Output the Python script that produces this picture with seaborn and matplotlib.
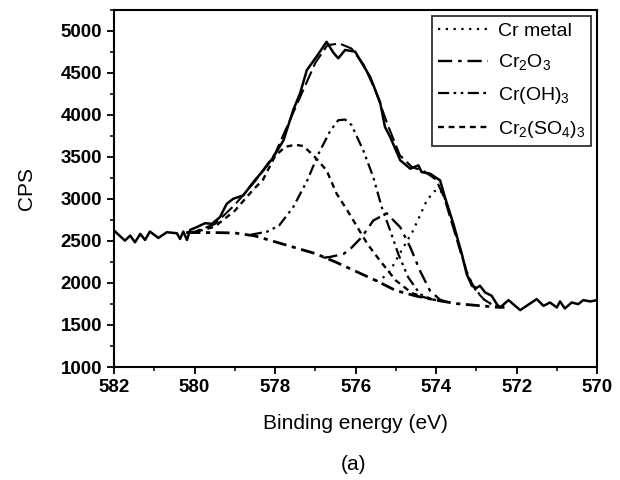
import matplotlib
matplotlib.use("Agg")
import matplotlib.pyplot as plt
import seaborn as sns
import numpy as np
import pandas as pd
from matplotlib.ticker import MultipleLocator

# ---------------- data ----------------
exp_energy = [582.00, 581.73, 581.60, 581.48, 581.35, 581.23, 581.11, 580.90, 580.69,
              580.44, 580.36, 580.28, 580.19, 580.11, 579.95, 579.74, 579.57, 579.37,
              579.20, 579.04, 578.79, 578.54, 578.29, 578.04, 577.79, 577.55, 577.38,
              577.21, 576.97, 576.72, 576.55, 576.43, 576.26, 576.01, 575.89, 575.64,
              575.39, 575.27, 575.14, 574.89, 574.64, 574.44, 574.36, 574.15, 573.90,
              573.78, 573.57, 573.36, 573.24, 573.11, 573.00, 572.91, 572.78, 572.62,
              572.49, 572.41, 572.20, 571.91, 571.50, 571.33, 571.17, 571.00, 570.92,
              570.80, 570.63, 570.47, 570.34, 570.17, 570.00]
exp_cps = [2624, 2504, 2564, 2484, 2584, 2512, 2612, 2536, 2604,
           2592, 2524, 2612, 2512, 2632, 2664, 2711, 2704, 2783,
           2943, 3002, 3042, 3201, 3340, 3499, 3698, 4057, 4256,
           4534, 4693, 4870, 4740, 4674, 4773, 4753, 4654, 4455,
           4150, 3857, 3738, 3460, 3360, 3400, 3320, 3301, 3221,
           3022, 2704, 2346, 2107, 1967, 1940, 1967, 1887, 1848,
           1748, 1708, 1796, 1677, 1808, 1728, 1768, 1708, 1780,
           1697, 1768, 1748, 1796, 1780, 1796]

fit_energy = [580.2, 580.0, 579.5, 579.0, 578.5, 578.0, 577.5, 577.0, 576.7, 576.4,
              576.1, 575.8, 575.5, 575.2, 574.9, 574.6, 574.3, 574.0, 573.8, 573.6,
              573.4, 573.2, 573.0, 572.8, 572.6, 572.4]
fit_cps = [2600, 2610, 2700, 2930, 3210, 3540, 4080, 4620, 4830, 4850,
           4790, 4600, 4280, 3880, 3520, 3380, 3330, 3230, 3020, 2700,
           2380, 2080, 1900, 1800, 1740, 1715]

bg_energy = [580.2, 579.5, 579.0, 578.5, 578.0, 577.5, 577.0, 576.5, 576.0, 575.5,
             575.0, 574.5, 574.0, 573.5, 573.0, 572.5, 572.3]
bg_cps = [2600, 2600, 2595, 2560, 2490, 2420, 2350, 2250, 2140, 2030,
          1910, 1845, 1795, 1755, 1733, 1712, 1710]

crmetal_energy = [575.5, 575.3, 575.14, 574.86, 574.57, 574.23, 574.05, 573.9, 573.78,
                  573.57, 573.36, 573.2, 573.0, 572.8, 572.6, 572.45]
crmetal_cps = [2020, 2070, 2146, 2385, 2624, 2982, 3090, 3110, 3000,
               2690, 2330, 2080, 1910, 1800, 1740, 1715]

cr2o3_energy = [576.8, 576.63, 576.3, 576.1, 575.85, 575.56, 575.23, 574.89, 574.64,
                574.40, 574.15, 573.9, 573.7]
cr2o3_cps = [2300, 2310, 2345, 2420, 2544, 2743, 2830, 2663, 2424,
             2146, 1907, 1800, 1770]

croh3_energy = [578.6, 578.2, 577.9, 577.55, 577.2, 576.92, 576.63, 576.43, 576.26,
                576.1, 575.81, 575.56, 575.35, 575.14, 574.94, 574.69, 574.40, 574.1]
croh3_cps = [2575, 2610, 2684, 2902, 3221, 3539, 3810, 3937, 3945,
             3880, 3579, 3260, 2902, 2624, 2346, 2066, 1868, 1805]

crso4_energy = [580.2, 580.0, 579.5, 579.0, 578.6, 578.3, 578.0, 577.75, 577.5, 577.3,
                577.05, 576.72, 576.47, 576.2, 575.95, 575.7, 575.4, 575.0, 574.6,
                574.3, 574.0]
crso4_cps = [2600, 2605, 2670, 2860, 3080, 3230, 3510, 3620, 3645, 3630,
             3520, 3340, 3062, 2860, 2660, 2460, 2270, 2030, 1880,
             1830, 1795]

x_ticks = [582, 580, 578, 576, 574, 572, 570]
y_ticks = [1000, 1500, 2000, 2500, 3000, 3500, 4000, 4500, 5000]
legend_labels = ["Cr metal", "Cr$_2$O$_3$", "Cr(OH)$_3$", "Cr$_2$(SO$_4$)$_3$"]

# ---------------- style ----------------
sns.set_style("ticks")
plt.rcParams['font.family'] = ['Liberation Sans', 'DejaVu Sans']
plt.rcParams['mathtext.default'] = 'regular'
plt.rcParams['text.color'] = 'black'
plt.rcParams['axes.labelcolor'] = 'black'

fig = plt.figure(figsize=(6.2, 4.8), dpi=100)
ax = fig.add_axes([0.184, 0.2354, 0.779, 0.744])

def draw(xs, ys, ls, lw, label=None):
    n_before = len(ax.lines)
    sns.lineplot(x=xs, y=ys, ax=ax, color="black", sort=False, estimator=None,
                 linewidth=lw, legend=False)
    line = ax.lines[n_before]
    line.set_linestyle(ls)
    if label is not None:
        line.set_label(label)
    return line

draw(exp_energy, exp_cps, '-', 1.8)
draw(fit_energy, fit_cps, (0, (7, 2.5)), 1.5)
draw(bg_energy, bg_cps, (0, (5, 2, 1.5, 2)), 2.0)
h1 = draw(crmetal_energy, crmetal_cps, (0, (1, 2.5)), 1.6, legend_labels[0])
h2 = draw(cr2o3_energy, cr2o3_cps, (0, (6, 2.5, 1.5, 2.5)), 1.7, legend_labels[1])
h3 = draw(croh3_energy, croh3_cps, (0, (5, 2, 1.2, 2, 1.2, 2)), 1.6, legend_labels[2])
h4 = draw(crso4_energy, crso4_cps, (0, (2.5, 2)), 1.7, legend_labels[3])

ax.set_xlim(582, 570)
ax.set_ylim(1000, 5250)
ax.set_xticks(x_ticks)
ax.set_yticks(y_ticks)
ax.xaxis.set_minor_locator(MultipleLocator(1))
ax.yaxis.set_minor_locator(MultipleLocator(250))
ax.tick_params(axis='both', which='major', direction='out', length=5, width=1.3,
               labelsize=13.5, colors='black', top=False, right=False)
ax.tick_params(axis='both', which='minor', direction='out', length=3, width=1.1,
               colors='black', top=False, right=False)
for lab in ax.get_xticklabels() + ax.get_yticklabels():
    lab.set_fontweight('bold')
for s in ax.spines.values():
    s.set_linewidth(1.5)
    s.set_color('black')

ax.set_xlabel("Binding energy (eV)", fontsize=15, labelpad=13, color='black')
ax.set_ylabel("CPS", fontsize=15, labelpad=18, color='black')

leg = ax.legend(handles=[h1, h2, h3, h4], loc='upper right',
                bbox_to_anchor=(0.988, 0.982), fontsize=14, frameon=True,
                fancybox=False, edgecolor='black', borderpad=0.3,
                handlelength=2.6, handletextpad=0.5, labelspacing=0.65,
                borderaxespad=0.0)
leg.get_frame().set_linewidth(1.3)
for t in leg.get_texts():
    t.set_color('black')

fig.text(0.5695, 0.033, "(a)", fontsize=15, ha='center', va='center', color='black')

fig.savefig("out.png", dpi=100)
